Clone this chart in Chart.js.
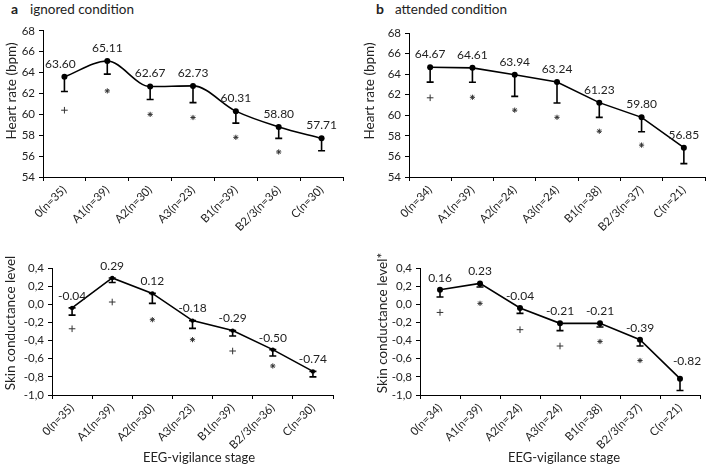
<!DOCTYPE html>
<html>
<head>
<meta charset="utf-8">
<script src="https://cdn.jsdelivr.net/npm/chart.js@4/dist/chart.umd.min.js"></script>
<style>
  html, body { margin: 0; padding: 0; background: #fff; }
  #wrap { position: relative; width: 710px; height: 469px; overflow: hidden; font-family: Lato, "Open Sans", sans-serif; color: #222; }
  .hdr { position: absolute; top: 0; font-size: 13.5px; line-height: 18px; white-space: nowrap; }
  .hdr b { font-size: 14px; }
  canvas { position: absolute; }
</style>
</head>
<body>
<div id="wrap">
  <div class="hdr" style="left:11px"><b>a</b></div>
  <div class="hdr" style="left:30px">ignored condition</div>
  <div class="hdr" style="left:376px"><b>b</b></div>
  <div class="hdr" style="left:395px">attended condition</div>
  <canvas id="hrA" width="355" height="220" style="left:0;top:20px"></canvas>
  <canvas id="hrB" width="355" height="220" style="left:355px;top:20px"></canvas>
  <canvas id="sclA" width="355" height="229" style="left:0;top:240px"></canvas>
  <canvas id="sclB" width="355" height="229" style="left:355px;top:240px"></canvas>
</div>
<script>
// categories
const stagesIgnored = ['0(n=35)', 'A1(n=39)', 'A2(n=30)', 'A3(n=23)', 'B1(n=39)', 'B2/3(n=36)', 'C(n=30)'];
const stagesAttended = ['0(n=34)', 'A1(n=39)', 'A2(n=24)', 'A3(n=24)', 'B1(n=38)', 'B2/3(n=37)', 'C(n=21)'];

// heart rate, ignored
const hrIgnored = [63.60, 65.11, 62.67, 62.73, 60.31, 58.80, 57.71];
const hrIgnoredErr = [1.4, 1.25, 1.25, 1.6, 1.15, 1.1, 1.2];
const hrIgnoredSig = [60.4, 62.25, 60.0, 59.7, 57.8, 56.4, null];
const hrIgnoredSigType = ['+', '*', '*', '*', '*', '*', null];

// heart rate, attended
const hrAttended = [64.67, 64.61, 63.94, 63.24, 61.23, 59.80, 56.85];
const hrAttendedErr = [1.45, 1.4, 2.1, 2.05, 1.43, 1.4, 1.55];
const hrAttendedSig = [61.7, 61.75, 60.5, 59.8, 58.45, 57.1, null];
const hrAttendedSigType = ['+', '*', '*', '*', '*', '*', null];

// skin conductance, ignored
const sclIgnored = [-0.04, 0.29, 0.12, -0.18, -0.29, -0.50, -0.74];
const sclIgnoredErr = [0.08, 0.05, 0.11, 0.085, 0.06, 0.07, 0.06];
const sclIgnoredSig = [-0.27, 0.025, -0.17, -0.39, -0.515, -0.68, null];
const sclIgnoredSigType = ['+', '+', '*', '*', '+', '*', null];

// skin conductance, attended
const sclAttended = [0.16, 0.23, -0.04, -0.21, -0.21, -0.39, -0.82];
const sclAttendedErr = [0.08, 0.04, 0.06, 0.08, 0.04, 0.07, 0.13];
const sclAttendedSig = [-0.09, 0.01, -0.28, -0.46, -0.41, -0.62, null];
const sclAttendedSigType = ['+', '*', '+', '+', '*', '*', null];

// axis tick settings
const hrTicks = { min: 54, max: 68, step: 2 };
const sclTicks = { min: -1.0, max: 0.4, step: 0.2 };

const FONT = 'Lato, "Open Sans", sans-serif';
const INK = '#222';

function commaFmt(v) {
  let r = Math.round(v * 10) / 10;
  if (r === 0) r = 0;
  return r.toFixed(1).replace('.', ',');
}

function panel(id, c) {
  const canvas = document.getElementById(id);
  const W = canvas.width, H = canvas.height;
  const plus = c.sig.map((v, i) => c.sigType[i] === '+' ? v : null);
  const star = c.sig.map((v, i) => c.sigType[i] === '*' ? v : null);

  const extras = {
    id: 'extras',
    afterDatasetsDraw(chart) {
      const ctx = chart.ctx;
      const ys = chart.scales.y;
      const meta = chart.getDatasetMeta(0);
      ctx.save();
      ctx.strokeStyle = '#000';
      ctx.lineWidth = 1.6;
      meta.data.forEach((pt, i) => {
        const x = pt.x, y0 = pt.y;
        const y1 = ys.getPixelForValue(c.values[i] - c.errors[i]);
        ctx.beginPath();
        ctx.moveTo(x, y0); ctx.lineTo(x, y1);
        ctx.moveTo(x - 3.5, y1); ctx.lineTo(x + 3.5, y1);
        if (c.topCap) { ctx.moveTo(x - 3.5, y0); ctx.lineTo(x + 3.5, y0); }
        ctx.stroke();
      });
      ctx.fillStyle = INK;
      ctx.font = '12px ' + FONT;
      ctx.textAlign = 'center';
      ctx.textBaseline = 'middle';
      meta.data.forEach((pt, i) => {
        const off = (c.lblOff && c.lblOff[i]) || [0, 0];
        ctx.fillText(c.values[i].toFixed(2), pt.x + off[0], pt.y - c.lblDy + off[1]);
      });
      // axis titles
      ctx.font = '13.5px ' + FONT;
      ctx.save();
      ctx.translate(c.yTitle[1], c.yTitle[2]);
      ctx.rotate(-Math.PI / 2);
      ctx.fillText(c.yTitle[0], 0, 0);
      ctx.restore();
      ctx.font = '13px ' + FONT;
      if (c.xTitle) ctx.fillText(c.xTitle[0], c.xTitle[1], c.xTitle[2]);
      ctx.restore();
    }
  };

  new Chart(canvas, {
    type: 'line',
    data: {
      labels: c.labels,
      datasets: [
        { data: c.values, borderColor: '#000', borderWidth: 1.6, tension: c.tension,
          cubicInterpolationMode: c.smooth ? 'monotone' : 'default',
          pointRadius: c.r, pointBackgroundColor: '#000', pointBorderColor: '#000', pointBorderWidth: 0 },
        { data: plus, showLine: false, pointStyle: 'cross', pointRadius: 3.3,
          pointBorderColor: '#333', pointBorderWidth: 1 },
        { data: star, showLine: false, pointStyle: 'star', pointRadius: 2.6,
          pointBorderColor: '#333', pointBorderWidth: 1 }
      ]
    },
    options: {
      responsive: false,
      animation: false,
      events: [],
      layout: { padding: { left: 0, top: c.box[1], right: W - c.box[2], bottom: 0 } },
      plugins: { legend: { display: false }, tooltip: { enabled: false } },
      scales: {
        x: {
          offset: true,
          grid: { offset: true, drawOnChartArea: false, tickLength: 4, color: '#000', lineWidth: 1 },
          border: { color: '#000', width: 1 },
          ticks: { autoSkip: false, minRotation: 45, maxRotation: 45, padding: 2, color: INK,
                   font: { family: FONT, size: 11.5 } },
          afterFit(s) { s.height = H - c.box[3]; }
        },
        y: {
          min: c.ticks.min, max: c.ticks.max,
          grid: { drawOnChartArea: false, tickLength: 4, color: '#000', lineWidth: 1 },
          border: { color: '#000', width: 1 },
          ticks: { stepSize: c.ticks.step, padding: 4, color: INK, font: { family: FONT, size: 11.5 },
                   callback: c.fmt },
          afterFit(s) { s.width = c.box[0]; }
        }
      }
    },
    plugins: [extras]
  });
}

panel('hrA', {
  labels: stagesIgnored, values: hrIgnored, errors: hrIgnoredErr,
  sig: hrIgnoredSig, sigType: hrIgnoredSigType, ticks: hrTicks, fmt: v => v,
  box: [43, 9, 343, 157], tension: 0.4, smooth: true, r: 3, lblDy: 13,
  lblOff: [[-4, 0]],
  yTitle: ['Heart rate (bpm)', 12, 71]
});

panel('hrB', {
  labels: stagesAttended, values: hrAttended, errors: hrAttendedErr,
  sig: hrAttendedSig, sigType: hrAttendedSigType, ticks: hrTicks, fmt: v => v,
  box: [54, 13, 354, 157], tension: 0, r: 3, lblDy: 13,
  yTitle: ['Heart rate (bpm)', 15, 71]
});

panel('sclA', {
  labels: stagesIgnored, values: sclIgnored, errors: sclIgnoredErr,
  sig: sclIgnoredSig, sigType: sclIgnoredSigType, ticks: sclTicks, fmt: commaFmt,
  box: [52, 28, 333, 155], tension: 0, r: 2.2, lblDy: 12, topCap: true,
  yTitle: ['Skin conductance level', 11, 83],
  xTitle: ['EEG-vigilance stage', 199, 218]
});

panel('sclB', {
  labels: stagesAttended, values: sclAttended, errors: sclAttendedErr,
  sig: sclAttendedSig, sigType: sclAttendedSigType, ticks: sclTicks, fmt: commaFmt,
  box: [65, 28, 345, 155], tension: 0, r: 3, lblDy: 12,
  lblOff: [null, null, null, null, null, null, [7, -6]],
  yTitle: ['Skin conductance level*', 28, 83],
  xTitle: ['EEG-vigilance stage', 209, 218]
});
</script>
</body>
</html>
